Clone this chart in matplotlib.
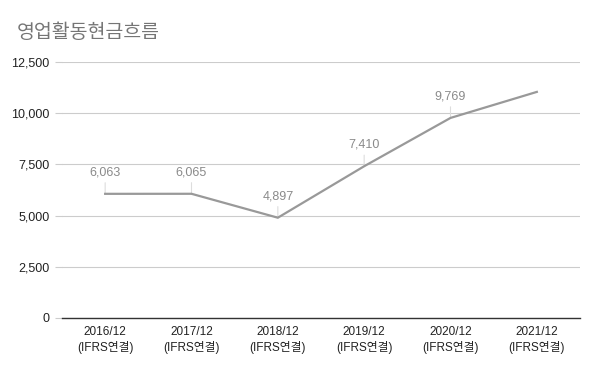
import matplotlib
matplotlib.use("Agg")
import matplotlib.pyplot as plt
from matplotlib.ticker import FuncFormatter

plt.rcParams['font.family'] = ['Liberation Sans', 'Noto Sans CJK KR', 'DejaVu Sans']

title = "영업활동현금흐름"
categories = ["2016/12\n(IFRS연결)", "2017/12\n(IFRS연결)", "2018/12\n(IFRS연결)",
              "2019/12\n(IFRS연결)", "2020/12\n(IFRS연결)", "2021/12\n(IFRS연결)"]
values = [6063, 6065, 4897, 7410, 9769, 11040]
labels = ["6,063", "6,065", "4,897", "7,410", "9,769", ""]
yticks = [0, 2500, 5000, 7500, 10000, 12500]

fig = plt.figure(figsize=(6, 3.71), dpi=100)
ax = fig.add_axes([62/600, 1-318/371, (580-62)/600, (318-62)/371])

x = list(range(len(categories)))
ax.plot(x, values, color='#999999', lw=1.6, solid_joinstyle='miter', zorder=3)

for xi, v, lab in zip(x, values, labels):
    if not lab:
        continue
    ax.annotate(lab, xy=(xi, v), xytext=(0, 11), textcoords='offset points',
                ha='center', va='bottom', fontsize=9, color='#8a8a8a',
                arrowprops=dict(arrowstyle='-', color='#dddddd', lw=0.8,
                                shrinkA=1, shrinkB=0), zorder=2)

ax.set_xlim(-0.5, len(categories) - 0.5)
ax.set_ylim(0, 12500)
ax.set_yticks(yticks)
ax.yaxis.set_major_formatter(FuncFormatter(lambda v, p: f"{int(v):,}"))
ax.set_xticks(x)
ax.set_xticklabels(categories, fontsize=8.5, color='#222222', linespacing=1.25)
ax.tick_params(axis='y', labelsize=9, colors='#222222', length=5, color='#cccccc', pad=4, width=0.8)
ax.tick_params(axis='x', length=0, pad=6)
ax.grid(axis='y', color='#cccccc', lw=0.8)
ax.set_axisbelow(True)
for s in ['top', 'right', 'left']:
    ax.spines[s].set_visible(False)
ax.spines['bottom'].set_color('#333333')
ax.spines['bottom'].set_linewidth(1.0)
ax.spines['bottom'].set_zorder(4)

fig.text(17/600, 1-33/371, title, fontsize=14, color='#757575', ha='left', va='center')

fig.savefig("out.png", dpi=100)
